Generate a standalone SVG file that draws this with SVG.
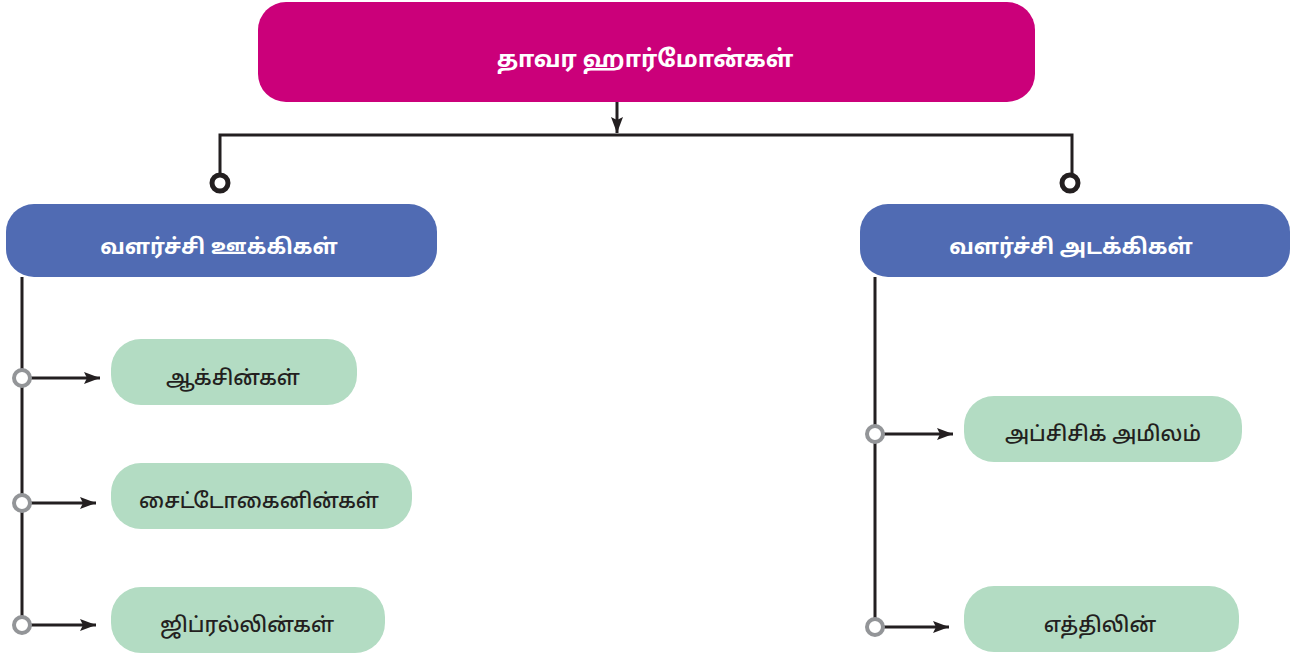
<svg xmlns="http://www.w3.org/2000/svg" width="1290" height="658" viewBox="0 0 1290 658">
<style>
text{font-family:"Noto Sans Tamil","Noto Sans","Liberation Sans",sans-serif;text-anchor:middle;dominant-baseline:central}
.t1{fill:#fff;font-weight:bold;font-size:23.5px}
.t2{fill:#fff;font-weight:bold;font-size:21.5px}
.t3{fill:#231f20;font-size:21px;font-weight:500}
.blue{fill:#506bb3}
.green{fill:#b3dcc3}
.ln{stroke:#231f20;stroke-width:3;fill:none}
.cb{fill:#fff;stroke:#231f20;stroke-width:5}
.cg{fill:#fff;stroke:#939598;stroke-width:4}
</style>
<defs>
<marker id="ah" markerWidth="16" markerHeight="12" refX="16" refY="6" orient="auto" markerUnits="userSpaceOnUse">
<path d="M0,0 L16,6 L0,12 L3,6 Z" fill="#231f20"/>
</marker>
</defs>
<g id="connectors">
<path class="ln" d="M617,102 V133" marker-end="url(#ah)"/>
<path class="ln" d="M220,178 V135 H1072 V178"/>
<circle class="cb" cx="220" cy="183" r="8"/>
<circle class="cb" cx="1070" cy="183" r="8"/>
<path class="ln" d="M22,277 V625"/>
<path class="ln" d="M875,277 V627"/>
<path class="ln" d="M30,378 H100" marker-end="url(#ah)"/>
<path class="ln" d="M30,503 H96" marker-end="url(#ah)"/>
<path class="ln" d="M30,625 H96" marker-end="url(#ah)"/>
<path class="ln" d="M883,434 H953" marker-end="url(#ah)"/>
<path class="ln" d="M883,627 H949" marker-end="url(#ah)"/>
<circle class="cg" cx="22" cy="378" r="8"/>
<circle class="cg" cx="22" cy="503" r="8"/>
<circle class="cg" cx="22" cy="625" r="8"/>
<circle class="cg" cx="875" cy="434" r="8"/>
<circle class="cg" cx="875" cy="627" r="8"/>
</g>
<g id="root">
<rect x="258" y="2" width="777" height="100" rx="28" fill="#cb007a"/>
<text class="t1" x="645" y="61">தாவர ஹார்மோன்கள்</text>
</g>
<g id="promoters">
<rect class="blue" x="6" y="204" width="431" height="73" rx="28"/>
<text class="t2" x="219" y="248">வளர்ச்சி ஊக்கிகள்</text>
</g>
<g id="inhibitors">
<rect class="blue" x="860" y="204" width="430" height="73" rx="28"/>
<text class="t2" x="1071" y="248">வளர்ச்சி அடக்கிகள்</text>
</g>
<g id="auxins">
<rect class="green" x="111" y="339" width="246" height="66" rx="30"/>
<text class="t3" x="233" y="380">ஆக்சின்கள்</text>
</g>
<g id="cytokinins">
<rect class="green" x="111" y="463" width="301" height="66" rx="30"/>
<text class="t3" x="259" y="503">சைட்டோகைனின்கள்</text>
</g>
<g id="gibberellins">
<rect class="green" x="111" y="587" width="274" height="66" rx="30"/>
<text class="t3" x="247" y="627">ஜிப்ரல்லின்கள்</text>
</g>
<g id="abscisic">
<rect class="green" x="964" y="396" width="278" height="66" rx="30"/>
<text class="t3" x="1103" y="436">அப்சிசிக் அமிலம்</text>
</g>
<g id="ethylene">
<rect class="green" x="964" y="586" width="275" height="66" rx="30"/>
<text class="t3" x="1100" y="627">எத்திலின்</text>
</g>
</svg>
